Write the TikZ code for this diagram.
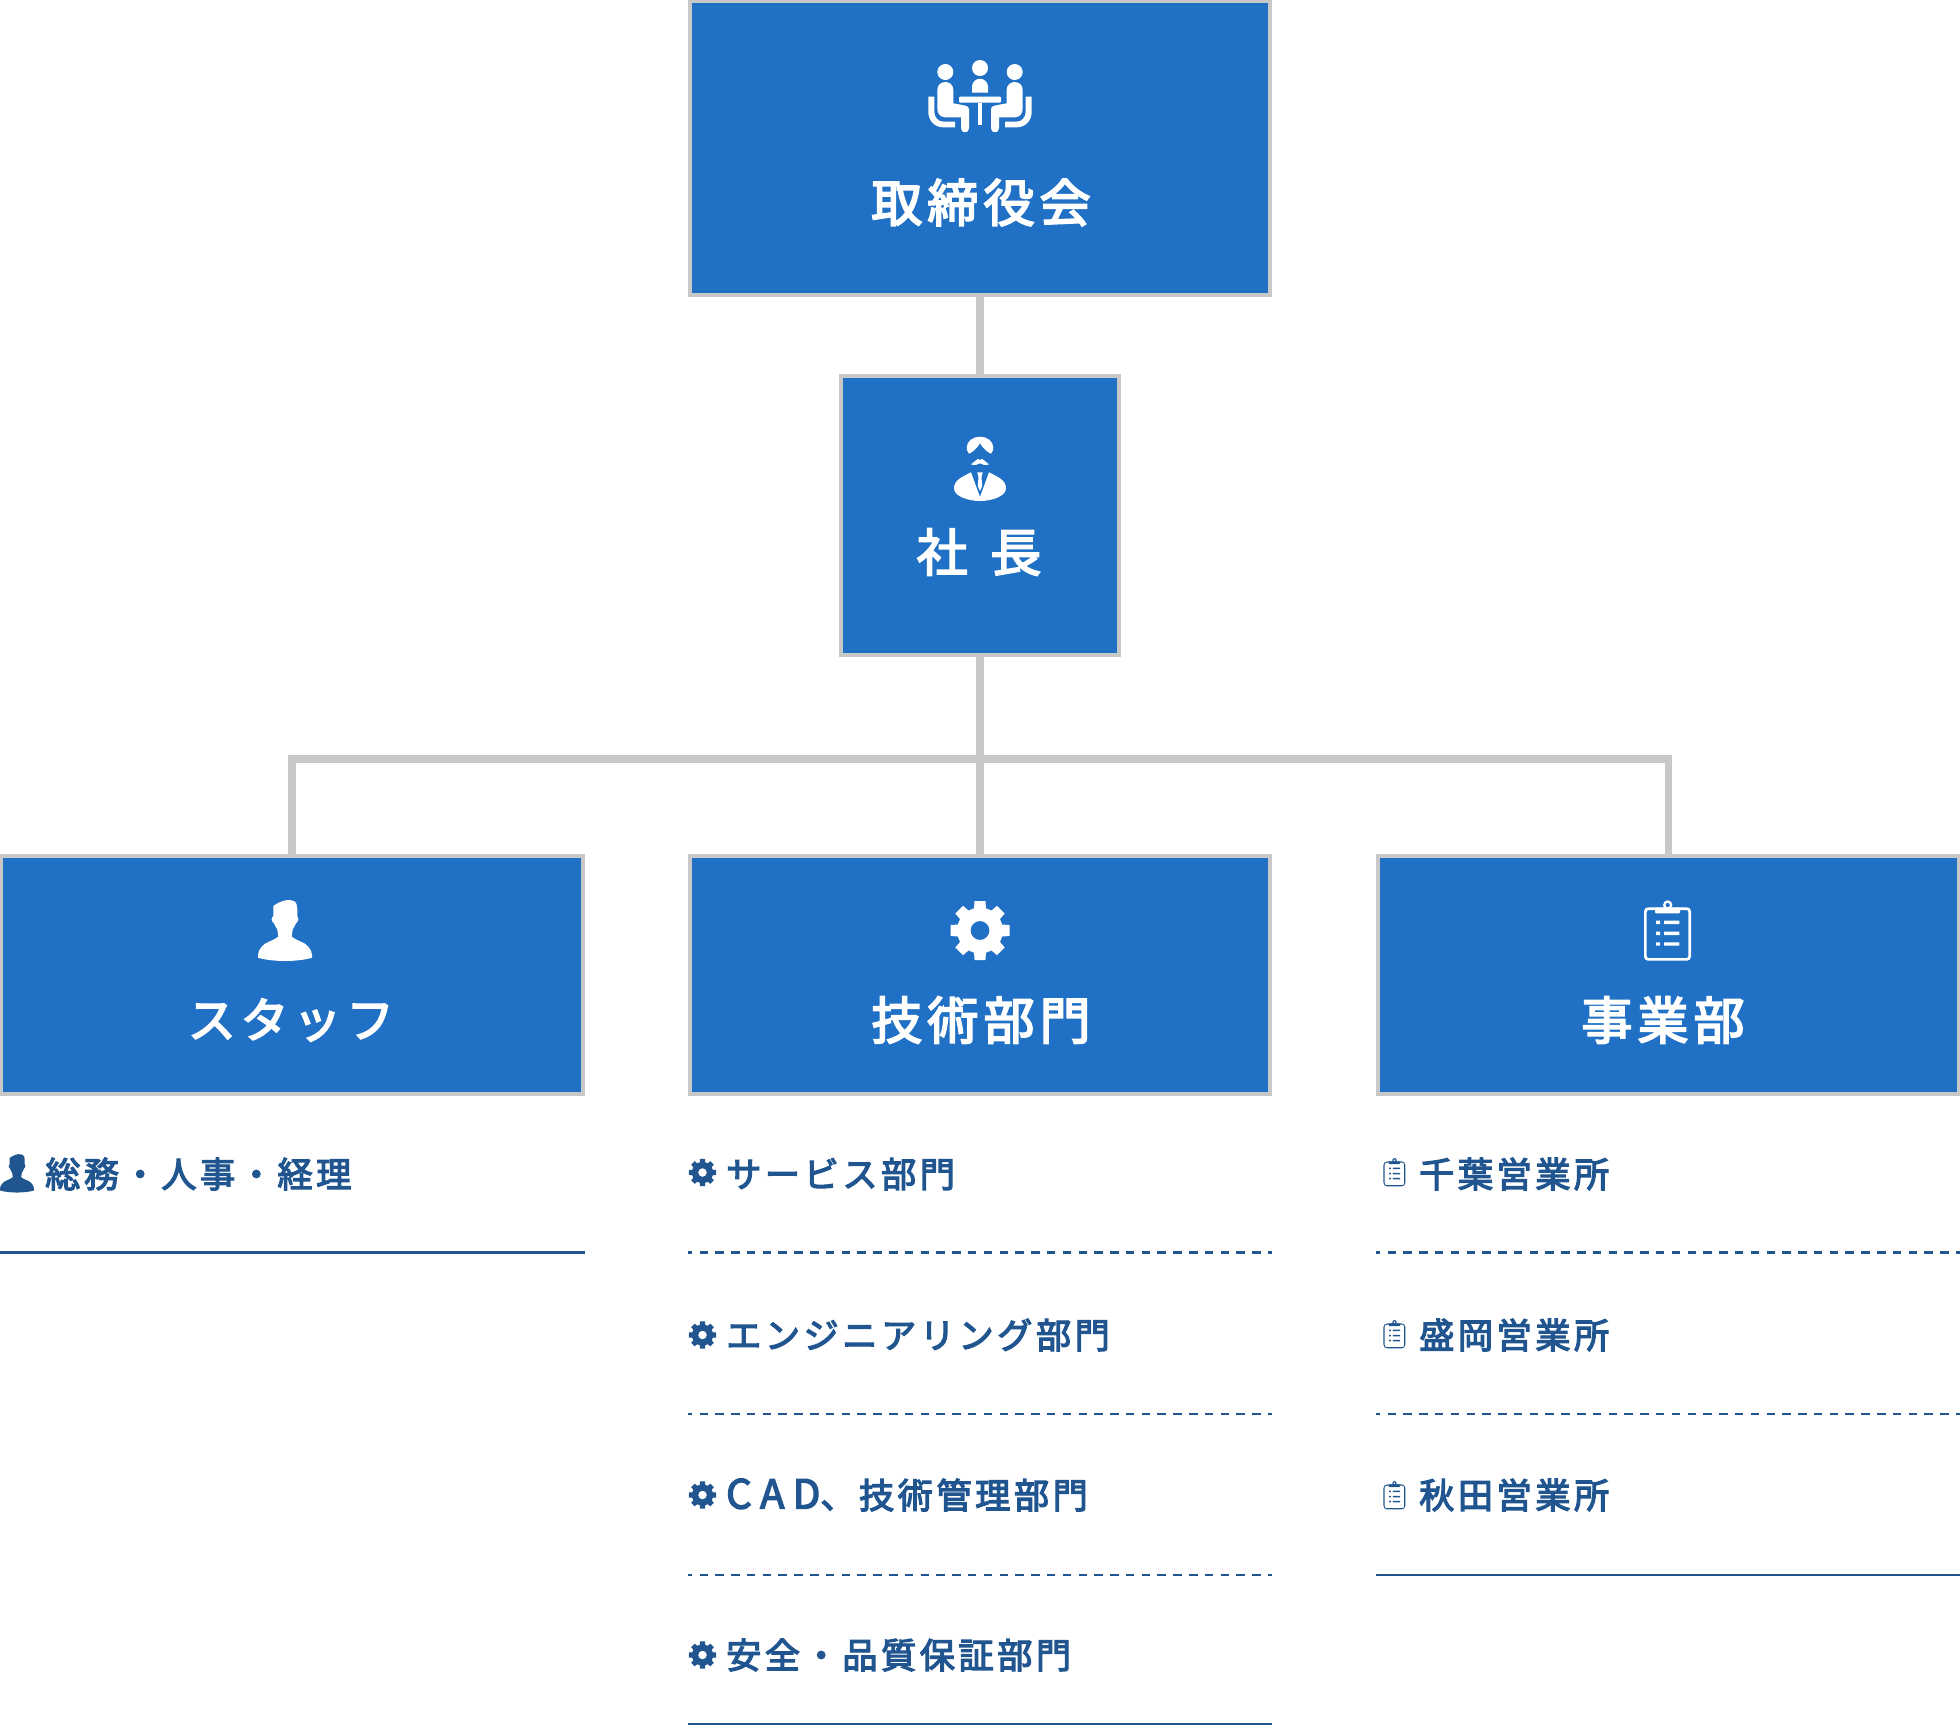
\documentclass[tikz,border=0pt]{standalone}
\usepackage{xcolor}
\usepackage{fontspec}
\usepackage{tikz}
\usetikzlibrary{positioning}
\setmainfont[LetterSpace=10,FakeBold=3.5]{Noto Sans CJK JP}
\definecolor{boxblue}{HTML}{2071C5}
\definecolor{linegray}{HTML}{C8C8C8}
\definecolor{itemblue}{HTML}{20558F}
\tikzset{
	orgbox/.style={draw=linegray, fill=boxblue, line width=4pt, inner sep=0pt, minimum width=580pt},
	orglabel/.style={text=white, inner sep=0pt, font=\fontsize{51}{60}\selectfont},
	itemlabel/.style={text=itemblue, inner sep=0pt, anchor=west, font=\fontsize{35.2}{42}\selectfont},
	link/.style={draw=linegray, line width=7.5pt},
	itemrule/.style={draw=itemblue, line width=2.2pt},
	itemdash/.style={itemrule, dash pattern=on 8.5pt off 7.29pt, dash phase=4.25pt},
	meeting/.pic={
		\fill (0,-28) circle (8) (-34.7,-24) circle (8) (34.7,-24) circle (8);
		\fill (-8,-3.3) -- (-8,-9.3) .. controls (-8,-14) and (-4,-17.3) .. (0,-17.3)
			.. controls (4,-17.3) and (8,-14) .. (8,-9.3) -- (8,-3.3) -- cycle;
		\fill[rounded corners=1] (-21,0.7) rectangle (21,6.7);
		\fill (-2.3,6.7) rectangle (2.3,29);
		\foreach \s in {1,-1}{
			\fill[xscale=\s] (-42.7,-6) .. controls (-42.7,-11) and (-39,-14) .. (-34.7,-14)
				.. controls (-30.4,-14) and (-26.7,-11) .. (-26.7,-6) -- (-26.7,7.3) -- (-15,9.5)
				.. controls (-12.5,10) and (-11,11) .. (-11,13) -- (-11,32.3)
				.. controls (-11,35) and (-13,36.3) .. (-15,36.3) .. controls (-17,36.3) and (-19,35) .. (-19,32.3)
				-- (-19,21.3) -- (-35,21.3) .. controls (-40,21.3) and (-42.7,17) .. (-42.7,12.3) -- cycle;
			\fill[xscale=\s] (-51.7,0.7) -- (-51.7,15.7) .. controls (-51.7,25) and (-45,31.3) .. (-36.7,31.3)
				-- (-25,31.3) -- (-25,25.7) -- (-36.7,25.7) .. controls (-42,25.7) and (-45.7,21) .. (-45.7,15.7)
				-- (-45.7,0.7) -- cycle;
		}
	},
	director/.pic={
		\fill (-11,-11.3) .. controls (-13,-14) and (-13.3,-15.5) .. (-13.3,-17.3)
			.. controls (-13.3,-24) and (-7,-28.3) .. (0,-28.3) .. controls (7,-28.3) and (13.3,-24) .. (13.3,-17.3)
			.. controls (13.3,-15.5) and (13,-14) .. (11,-11.3) .. controls (7,-13) and (3,-17) .. (0,-21.7)
			.. controls (-3,-17) and (-7,-13) .. (-11,-11.3) -- cycle;
		\fill (-9.3,-0.7) .. controls (-6,-2) and (-4,-6) .. (-1.5,-6) .. controls (-0.8,-6) and (-0.4,-5.5) .. (0,-5)
			.. controls (0.4,-5.5) and (0.8,-6) .. (1.5,-6) .. controls (4,-6) and (6,-2) .. (9.3,-0.7)
			.. controls (5,0.8) and (2,-0.5) .. (0,-1.7) .. controls (-2,-0.5) and (-5,0.8) .. (-9.3,-0.7) -- cycle;
		\fill (-9,7.3) .. controls (-18,12) and (-26,15) .. (-26,23.3) .. controls (-26,32) and (-10,36) .. (0,36)
			.. controls (10,36) and (26,32) .. (26,23.3) .. controls (26,15) and (18,12) .. (9,7.3)
			-- (0,32) -- cycle;
		\fill (-2.8,7.3) -- (2.8,7.3) -- (1.5,12) -- (2.2,21) -- (0,26) -- (-2.2,21) -- (-1.5,12) -- cycle;
	},
	staffer/.pic={
		\fill (-11.7,-24) .. controls (-8,-27) and (-3,-29) .. (2,-30) .. controls (7,-30) and (11,-29) .. (11.5,-26)
			.. controls (12.2,-23) and (12.3,-22) .. (12.3,-20) -- (12.3,-14) .. controls (14,-12) and (14,-9) .. (11,-6.7)
			.. controls (10,-4) and (8.5,-2) .. (7.7,-0.7) -- (6.7,6.7) .. controls (12,11) and (20,12) .. (23.3,16.7)
			.. controls (25.5,19) and (27,22) .. (27,25) -- (27,27.7) .. controls (20,30) and (8,31) .. (0,31)
			.. controls (-8,31) and (-20,30) .. (-27,27.7) -- (-27,25) .. controls (-27,22) and (-25.5,19) .. (-23.3,16.7)
			.. controls (-20,12) and (-12,11) .. (-6.7,6.7) -- (-7.7,-0.7) .. controls (-8.5,-2) and (-10,-4) .. (-11,-6.7)
			.. controls (-14,-9) and (-14,-12) .. (-11.7,-14) -- cycle;
	},
	gearwheel/.pic={
		\fill[even odd rule] (-15:23) foreach \a in {0,45,...,315}{
			-- ({\a-15}:23) -- ({\a-10.5}:30) -- ({\a+10.5}:30) -- ({\a+15}:23)
		} -- cycle (0,0) circle (9.5);
	},
	clipboard/.pic={
		\fill[even odd rule] [rounded corners=4] (-23.7,-22.7) rectangle (23.3,30.7)
			[rounded corners=2] (-21,-20) rectangle (20.7,28);
		\fill[even odd rule] (0,-25) circle (4.7) (0,-25) circle (2.3);
		\fill[rounded corners=1] (-12.7,-22.4) rectangle (12.3,-16.7);
		\fill (-11.7,-9.4) rectangle (-7.7,-6) (-3.7,-9.4) rectangle (11.7,-6);
		\fill (-11.7,1.6) rectangle (-7.7,5) (-3.7,1.6) rectangle (11.7,5);
		\fill (-11.7,12.3) rectangle (-7.7,15.7) (-3.7,12.3) rectangle (11.7,15.7);
	}
}
\begin{document}
\begin{tikzpicture}[x=1pt, y=-1pt]
\useasboundingbox (0,0) rectangle (1960,1725);
\node[orgbox, minimum height=294pt] at (980,148) (board) {};
\node[orgbox, minimum width=278pt, minimum height=279pt] at (980,515.5) (president) {};
\node[orgbox, minimum width=582pt, minimum height=238pt] at (292,975) (staff) {};
\node[orgbox, minimum height=238pt] at (980,975) (tech) {};
\node[orgbox, minimum width=581pt, minimum height=238pt] at (1668.5,975) (sales) {};
\coordinate (bus) at (980,759);
\path[link] (board) -- (president);
\path[link] (president) -- (tech);
\path[link] (staff.north) |- (bus) -| (sales.north);
\node[orglabel] at (981,202.5) (boardlabel) {取締役会};
\node[orglabel] at (979,552) (presidentlabel) {社 \kern6pt 長};
\node[orglabel, font=\fontsize{48}{60}\selectfont] at (291,1020) (stafflabel) {スタッフ};
\node[orglabel] at (981,1020) (techlabel) {技術部門};
\node[orglabel] at (1663,1020) (saleslabel) {事業部};
\pic[fill=white] at (980,96) {meeting};
\pic[fill=white] at (980,465) {director};
\pic[fill=white] at (285,930) {staffer};
\pic[fill=white] at (980,930.5) {gearwheel};
\pic[fill=white] at (1667.7,930) {clipboard};
\node[itemlabel] at (45,1174) (general) {総務・人事・経理};
\node[itemlabel] at (726,1174) (service) {サービス部門};
\node[itemlabel] at (726,1335) (engineering) {エンジニアリング部門};
\node[itemlabel] at (726,1495) (cad) {{\fontsize{40}{42}\selectfont\addfontfeature{LetterSpace=21}CAD}、技術管理部門};
\node[itemlabel] at (726,1655) (safety) {安全・品質保証部門};
\node[itemlabel] at (1419,1174) (chiba) {千葉営業所};
\node[itemlabel] at (1419,1335) (morioka) {盛岡営業所};
\node[itemlabel] at (1419,1495) (akita) {秋田営業所};
\pic[fill=itemblue, scale=.63] at (17,1173) {staffer};
\pic[fill=itemblue, scale=.46] at (702.5,1172.5) {gearwheel};
\pic[fill=itemblue, scale=.46] at (702.5,1335) {gearwheel};
\pic[fill=itemblue, scale=.46] at (702.5,1495) {gearwheel};
\pic[fill=itemblue, scale=.46] at (702.5,1655) {gearwheel};
\pic[fill=itemblue, scale=.47] at (1394.5,1172) {clipboard};
\pic[fill=itemblue, scale=.47] at (1394.5,1334) {clipboard};
\pic[fill=itemblue, scale=.47] at (1394.5,1495) {clipboard};
\path[itemrule] (staff.west |- 0,1252.5) -- (staff.east |- 0,1252.5);
\path[itemdash] (tech.west |- 0,1252.5) -- (tech.east |- 0,1252.5);
\path[itemdash] (tech.west |- 0,1414) -- (tech.east |- 0,1414);
\path[itemdash] (tech.west |- 0,1575) -- (tech.east |- 0,1575);
\path[itemrule] (tech.west |- 0,1724) -- (tech.east |- 0,1724);
\path[itemdash] (sales.west |- 0,1252.5) -- (sales.east |- 0,1252.5);
\path[itemdash] (sales.west |- 0,1414) -- (sales.east |- 0,1414);
\path[itemrule] (sales.west |- 0,1575) -- (sales.east |- 0,1575);
\end{tikzpicture}
\end{document}
